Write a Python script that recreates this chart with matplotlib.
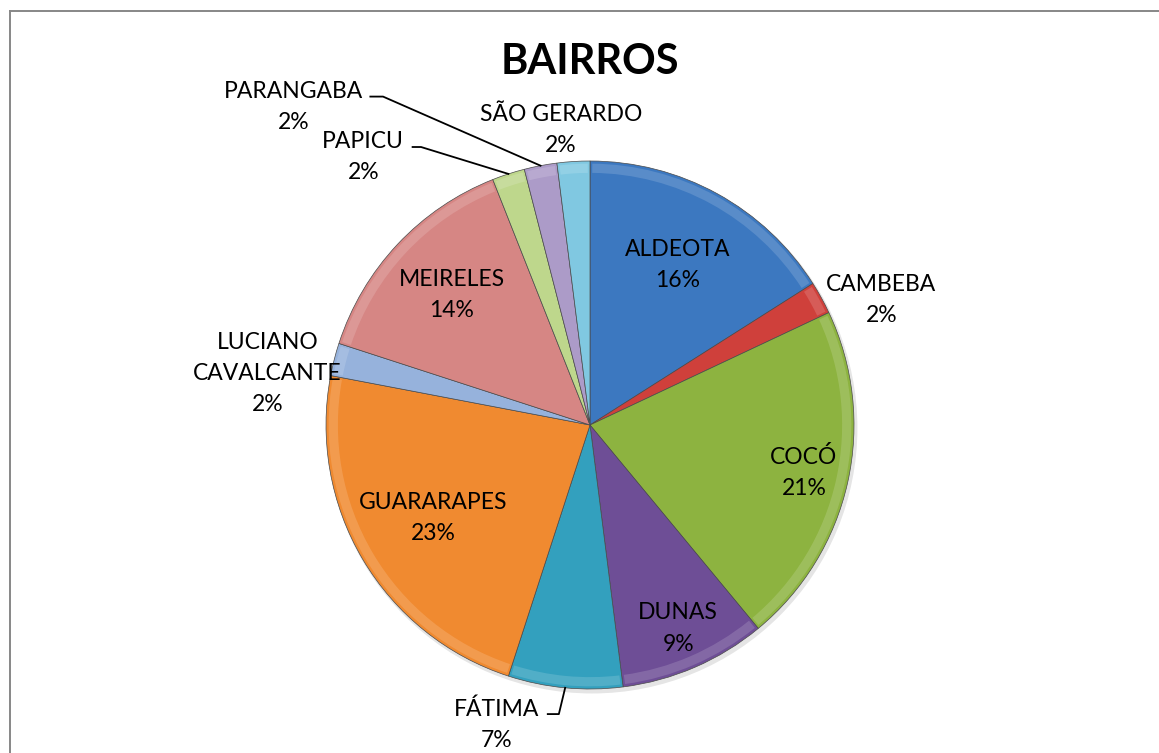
import numpy as np
import matplotlib
matplotlib.use("Agg")
import matplotlib.pyplot as plt
from matplotlib.lines import Line2D
from matplotlib.patches import Circle, Wedge

plt.rcParams["font.family"] = ["Lato", "DejaVu Sans"]

# ── data ──────────────────────────────────────────────────────────────
bairros = ["ALDEOTA", "CAMBEBA", "COCÓ", "DUNAS", "FÁTIMA", "GUARARAPES",
           "LUCIANO\nCAVALCANTE", "MEIRELES", "PAPICU", "PARANGABA",
           "SÃO GERARDO"]
percentuais = [16, 2, 21, 9, 7, 23, 2, 14, 2, 2, 2]

cores = ["#3C78C0", "#CF403B", "#8DB340", "#6E4E96", "#33A0BE", "#F08A30",
         "#96B2DC", "#D68684", "#BED78C", "#AC9BC8", "#80C8E1"]

# label placement: None -> inside the slice at that radius, else outside
dist_interna = [0.69, None, 0.83, 0.84, None, 0.69, None, 0.72, None, None, None]
pos_externa = {1: (1.103, 0.473), 4: (-0.355, -1.134), 6: (-1.221, 0.195),
               8: (-0.859, 1.015), 9: (-1.122, 1.206), 10: (-0.111, 1.118)}
# leader line elbows (start, knee) for labels that have one
guias = {4: [(-0.160, -1.095), (-0.118, -1.095)],
         8: [(-0.672, 1.053), (-0.640, 1.053)],
         9: [(-0.832, 1.244), (-0.784, 1.244)]}

W, H = 1159, 753
fig = plt.figure(figsize=(W / 100, H / 100), dpi=100)
fig.patch.set_facecolor("white")

# chart frame (only left and top edges are visible in the crop)
fig.add_artist(Line2D([10 / W, 10 / W], [0, 1 - 11 / H], color="#878787", lw=1.4))
fig.add_artist(Line2D([10 / W, 1], [1 - 11 / H, 1 - 11 / H], color="#878787", lw=1.4))

cx, cy, R, half = 590, 425, 262, 330
ax = fig.add_axes([(cx - half) / W, (H - cy - half) / H, 2 * half / W, 2 * half / H])
lim = half / R
ax.set_xlim(-lim, lim)
ax.set_ylim(-lim, lim)
ax.set_aspect("equal")
ax.axis("off")

# soft shadow
ax.add_patch(Circle((0.008, -0.012), 1.005, color="#000000", alpha=0.10, lw=0, zorder=0))

wedges, _ = ax.pie(percentuais, colors=cores, startangle=90, counterclock=False,
                   radius=1.0, wedgeprops=dict(edgecolor="#4a4a4a", linewidth=0.5))
for w in wedges:
    w.set_zorder(1)

# bevel hint: lighter rim along the outer arc of each slice
for w in wedges:
    ax.add_patch(Wedge((0, 0), 0.99, w.theta1 + 0.5, w.theta2 - 0.5, width=0.035,
                       facecolor="white", alpha=0.15, lw=0, zorder=2))

fs = 16.5
for i, w in enumerate(wedges):
    ang = np.deg2rad((w.theta1 + w.theta2) / 2)
    texto = f"{bairros[i]}\n{percentuais[i]}%"
    if dist_interna[i] is not None:
        d = dist_interna[i]
        ax.text(d * np.cos(ang), d * np.sin(ang), texto, ha="center", va="center",
                fontsize=fs, linespacing=1.6, zorder=5, color="black")
    else:
        x, y = pos_externa[i]
        ax.text(x, y, texto, ha="center", va="center", fontsize=fs,
                linespacing=1.6, zorder=5, color="black")
        if i in guias:
            (x0, y0), (x1, y1) = guias[i]
            ax.plot([x0, x1, np.cos(ang)], [y0, y1, np.sin(ang)], color="black",
                    lw=1.3, zorder=5, clip_on=False)

fig.text(590 / W, 1 - 62 / H, "BAIRROS", ha="center", va="center",
         fontsize=30, fontweight="bold")

fig.savefig("out.png", dpi=100)
